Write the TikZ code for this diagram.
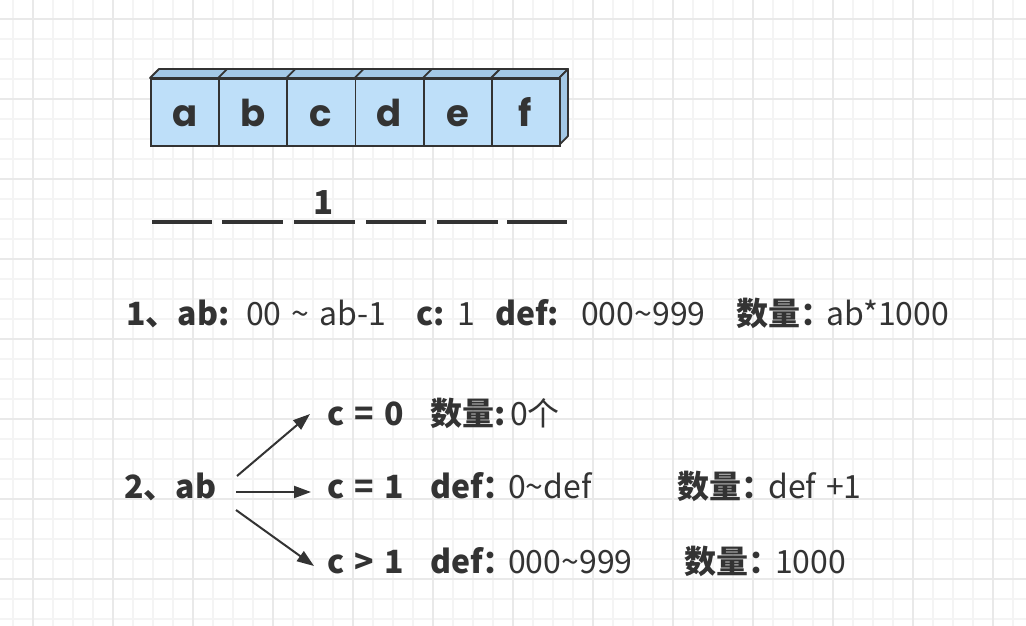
\documentclass[tikz,border=0pt]{standalone}
\usepackage{fontspec}
\setmainfont{Noto Sans CJK SC}[WordSpace=1.4]
\newfontfamily\boxfont{Poppins}
\usetikzlibrary{arrows.meta}
\definecolor{ink}{HTML}{333333}
\definecolor{gridminor}{HTML}{F4F4F4}
\definecolor{gridmajor}{HTML}{E9E9E9}
\definecolor{cellfront}{HTML}{BEDFF9}
\definecolor{celltop}{HTML}{A3C8E6}
\begin{document}
\begin{tikzpicture}[x=1pt,y=-1pt,
 txt/.style={anchor=base west, inner sep=0pt, text=ink, font=\fontsize{32}{34}\selectfont},
 btxt/.style={anchor=base west, inner sep=0pt, text=ink, font=\fontsize{32}{34}\selectfont\bfseries},
 cell/.style={draw=ink, line width=1.8pt, fill=cellfront, minimum width=68.2pt, minimum height=67pt, inner sep=0pt, anchor=north west},
 letter/.style={anchor=base, inner sep=0pt, text=ink, font=\boxfont\bfseries\fontsize{37}{39}\selectfont},
 blank/.style={draw=ink, line width=4.5pt},
 arr/.style={draw=ink, line width=2pt, -{Triangle[length=17pt,width=12pt]}},
 face/.style={draw=ink, line width=1.8pt, fill=celltop, line join=round}
]
\useasboundingbox (0,0) rectangle (1026,626);
\fill[white] (0,0) rectangle (1026,626);
% grid
\foreach \x in {13,33,...,1013} \draw[gridminor, line width=1.2pt] (\x,0) -- (\x,626);
\foreach \y in {19,39,...,619} \draw[gridminor, line width=1.2pt] (0,\y) -- (1026,\y);
\foreach \x in {33,113,...,993} \draw[gridmajor, line width=1.2pt] (\x,0) -- (\x,626);
\foreach \y in {19,99,...,579} \draw[gridmajor, line width=1.2pt] (0,\y) -- (1026,\y);
% 3D faces
\draw[face] (150,78) -- (159,69) -- (568,69) -- (559.2,78) -- cycle;
\draw[face] (559.2,78) -- (568,69) -- (568,136) -- (559.2,145) -- cycle;
\foreach \i in {1,...,5} \draw[ink, line width=1.8pt] (150+68.2*\i,78) -- (159+68.2*\i,69);
% cells
\node[cell] (ca) at (150,78) {};
\node[cell] (cb) at (218.2,78) {};
\node[cell] (cc) at (286.4,78) {};
\node[cell] (cd) at (354.6,78) {};
\node[cell] (ce) at (422.8,78) {};
\node[cell] (cf) at (491,78) {};
\node[letter] (la) at (185,126) {a};
\node[letter] (lb) at (253,126) {b};
\node[letter] (lc) at (321,126) {c};
\node[letter] (ld) at (389,126) {d};
\node[letter] (le) at (458,126) {e};
\node[letter] (lf) at (525,126) {f};
% blanks
\draw[blank] (152,222) -- (212,222);
\draw[blank] (222,222) -- (283,222);
\draw[blank] (294,222) -- (355,222);
\draw[blank] (366,222) -- (426,222);
\draw[blank] (437,222) -- (498,222);
\draw[blank] (507,222) -- (567,222);
\node[anchor=base, inner sep=0pt, text=ink, font=\fontsize{33}{35}\selectfont\bfseries] (one) at (324,214) {1};
% row 1
\node[btxt] (r1a) at (126,325) {1、ab:};
\node[txt] (r1b) at (246,325) {00 \textasciitilde{} ab-1};
\node[txt] (r1c) at (416,325) {\bfseries c:\mdseries{} 1};
\node[btxt] (r1e) at (495,325) {def:};
\node[txt] (r1f) at (581,325) {000\textasciitilde{}999};
\node[btxt] (r1g) at (736,325) {数量：};
\node[txt] (r1h) at (826,325) {ab*1000};
% row 2
\node[btxt] (ab) at (124,498) {2、ab};
\node[btxt] (c0) at (327,425) {c = 0};
\node[btxt] (c0q) at (430,425) {数量:};
\node[txt] (c0v) at (510,425) {0个};
\node[btxt] (c1) at (327,498) {c = 1};
\node[btxt] (c1d) at (430,498) {def：};
\node[txt] (c1v) at (508,498) {0\textasciitilde{}def};
\node[btxt] (c1q) at (677,498) {数量：};
\node[txt] (c1n) at (768,498) {def +1};
\node[btxt] (c2) at (327,573) {c > 1};
\node[btxt] (c2d) at (430,573) {def：};
\node[txt] (c2v) at (508,573) {000\textasciitilde{}999};
\node[btxt] (c2q) at (684,573) {数量：};
\node[txt] (c2n) at (775,573) {1000};
% arrows
\coordinate (s0) at (237,476);
\coordinate (t0) at (310,414);
\coordinate (s1) at (236,492);
\coordinate (t1) at (311,492);
\coordinate (s2) at (236,510);
\coordinate (t2) at (314,566);
\draw[arr] (s0) -- (t0);
\draw[arr] (s1) -- (t1);
\draw[arr] (s2) -- (t2);
\end{tikzpicture}
\end{document}
